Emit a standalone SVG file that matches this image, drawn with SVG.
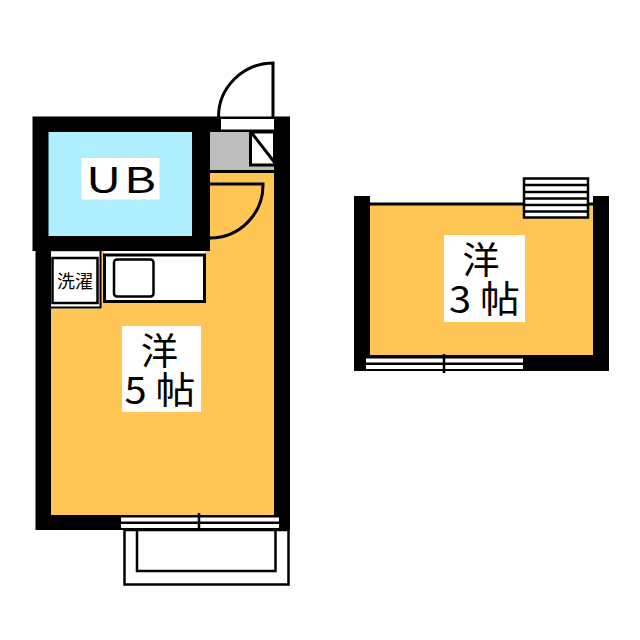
<svg xmlns="http://www.w3.org/2000/svg" width="640" height="640" viewBox="0 0 640 640">
<style>
.w{fill:#000}
.o{fill:#fff;stroke:#000;stroke-width:3}
.a{fill:none;stroke:#000;stroke-width:3}
.l{fill:#fff}
text{font-family:"Noto Sans CJK JP","Liberation Sans",sans-serif;fill:#000;text-anchor:middle}
.big{font-size:37px}
</style>
<rect width="640" height="640" fill="#fff"/>
<g id="room5">
<rect x="51" y="172" width="223" height="343" fill="#ffc655"/>
<path class="w" d="M32.500 116.500H290V530H35.500V251H32.500ZM51 251V515H274V172H210V251Z" fill-rule="evenodd"/>
<rect x="48.500" y="132" width="143.500" height="104" fill="#aeeeff"/>
<rect x="210" y="132" width="64" height="38" fill="#bdbdbd"/>
<rect x="210" y="170" width="64" height="3" fill="#000"/>
<rect x="210" y="173" width="64" height="10" fill="#ffc655"/>
<rect x="121" y="517.500" width="158" height="4" class="l"/>
<rect x="121" y="524" width="158" height="4" class="l"/>
<path d="M199 513V532" stroke="#000" stroke-width="2.500"/>
<rect x="81.500" y="158" width="78" height="41.500" class="l"/>
<text x="121" y="193" font-size="36" word-spacing="-6" textLength="70" lengthAdjust="spacingAndGlyphs">U B</text>
<rect x="122" y="326" width="79" height="86" class="l"/>
<text class="big"><tspan x="159.500" y="365">洋</tspan><tspan x="160" y="404" textLength="71" lengthAdjust="spacingAndGlyphs">5 帖</tspan></text>
</g>
<g id="entrance-door">
<rect x="221" y="119" width="53" height="10.500" class="l"/>
<path class="a" d="M273 117V63A55 54 0 0 0 218.500 117"/>
</g>
<g id="shoe-box">
<rect x="250.500" y="132" width="24" height="33" class="o"/>
<path class="a" d="M251 132L275 163"/>
</g>
<g id="inner-door">
<path class="a" d="M210 184H263A53 53 0 0 1 210 238"/>
</g>
<g id="laundry">
<rect x="51" y="252" width="50" height="56.500" fill="#fff"/>
<path d="M51 307.500H100.500V251" fill="none" stroke="#000" stroke-width="2"/>
<rect x="52.500" y="258" width="45" height="45" fill="#fff" stroke="#000" stroke-width="2.500"/>
<text x="75" y="288" font-size="18">洗濯</text>
</g>
<g id="kitchen">
<rect x="104" y="251" width="101.500" height="3" fill="#fff"/>
<rect x="104.500" y="255" width="100" height="46.500" class="o"/>
<rect x="114" y="259.500" width="39.500" height="37" rx="3" fill="#fff" stroke="#000" stroke-width="2.500"/>
</g>
<g id="balcony">
<rect x="124.500" y="530" width="164" height="54.500" fill="#fff" stroke="#000" stroke-width="2.500"/>
<path d="M137 530V571H275.500V530" fill="none" stroke="#000" stroke-width="2.500"/>
</g>
<g id="room3">
<rect x="370" y="204" width="225" height="153" fill="#ffc655"/>
<path d="M370 204H595" stroke="#000" stroke-width="3"/>
<rect x="354" y="196" width="16" height="175" class="w"/>
<rect x="593" y="196" width="16" height="175" class="w"/>
<rect x="354" y="355" width="255" height="16" class="w"/>
<rect x="366" y="358.500" width="157" height="4" class="l"/>
<rect x="366" y="365" width="157" height="4" class="l"/>
<path d="M444 354V373" stroke="#000" stroke-width="2.500"/>
<rect x="444" y="235" width="81" height="87" class="l"/>
<text class="big"><tspan x="481" y="274">洋</tspan><tspan x="484.500" y="313" textLength="71" lengthAdjust="spacingAndGlyphs">3 帖</tspan></text>
</g>
<g id="stairs">
<rect x="524" y="178.500" width="64" height="39" fill="#fff" stroke="#000" stroke-width="2.500"/>
<path d="M524 185H588M524 192H588M524 198.500H588M524 205H588M524 211.500H588" stroke="#000" stroke-width="2.500"/>
</g>
</svg>
